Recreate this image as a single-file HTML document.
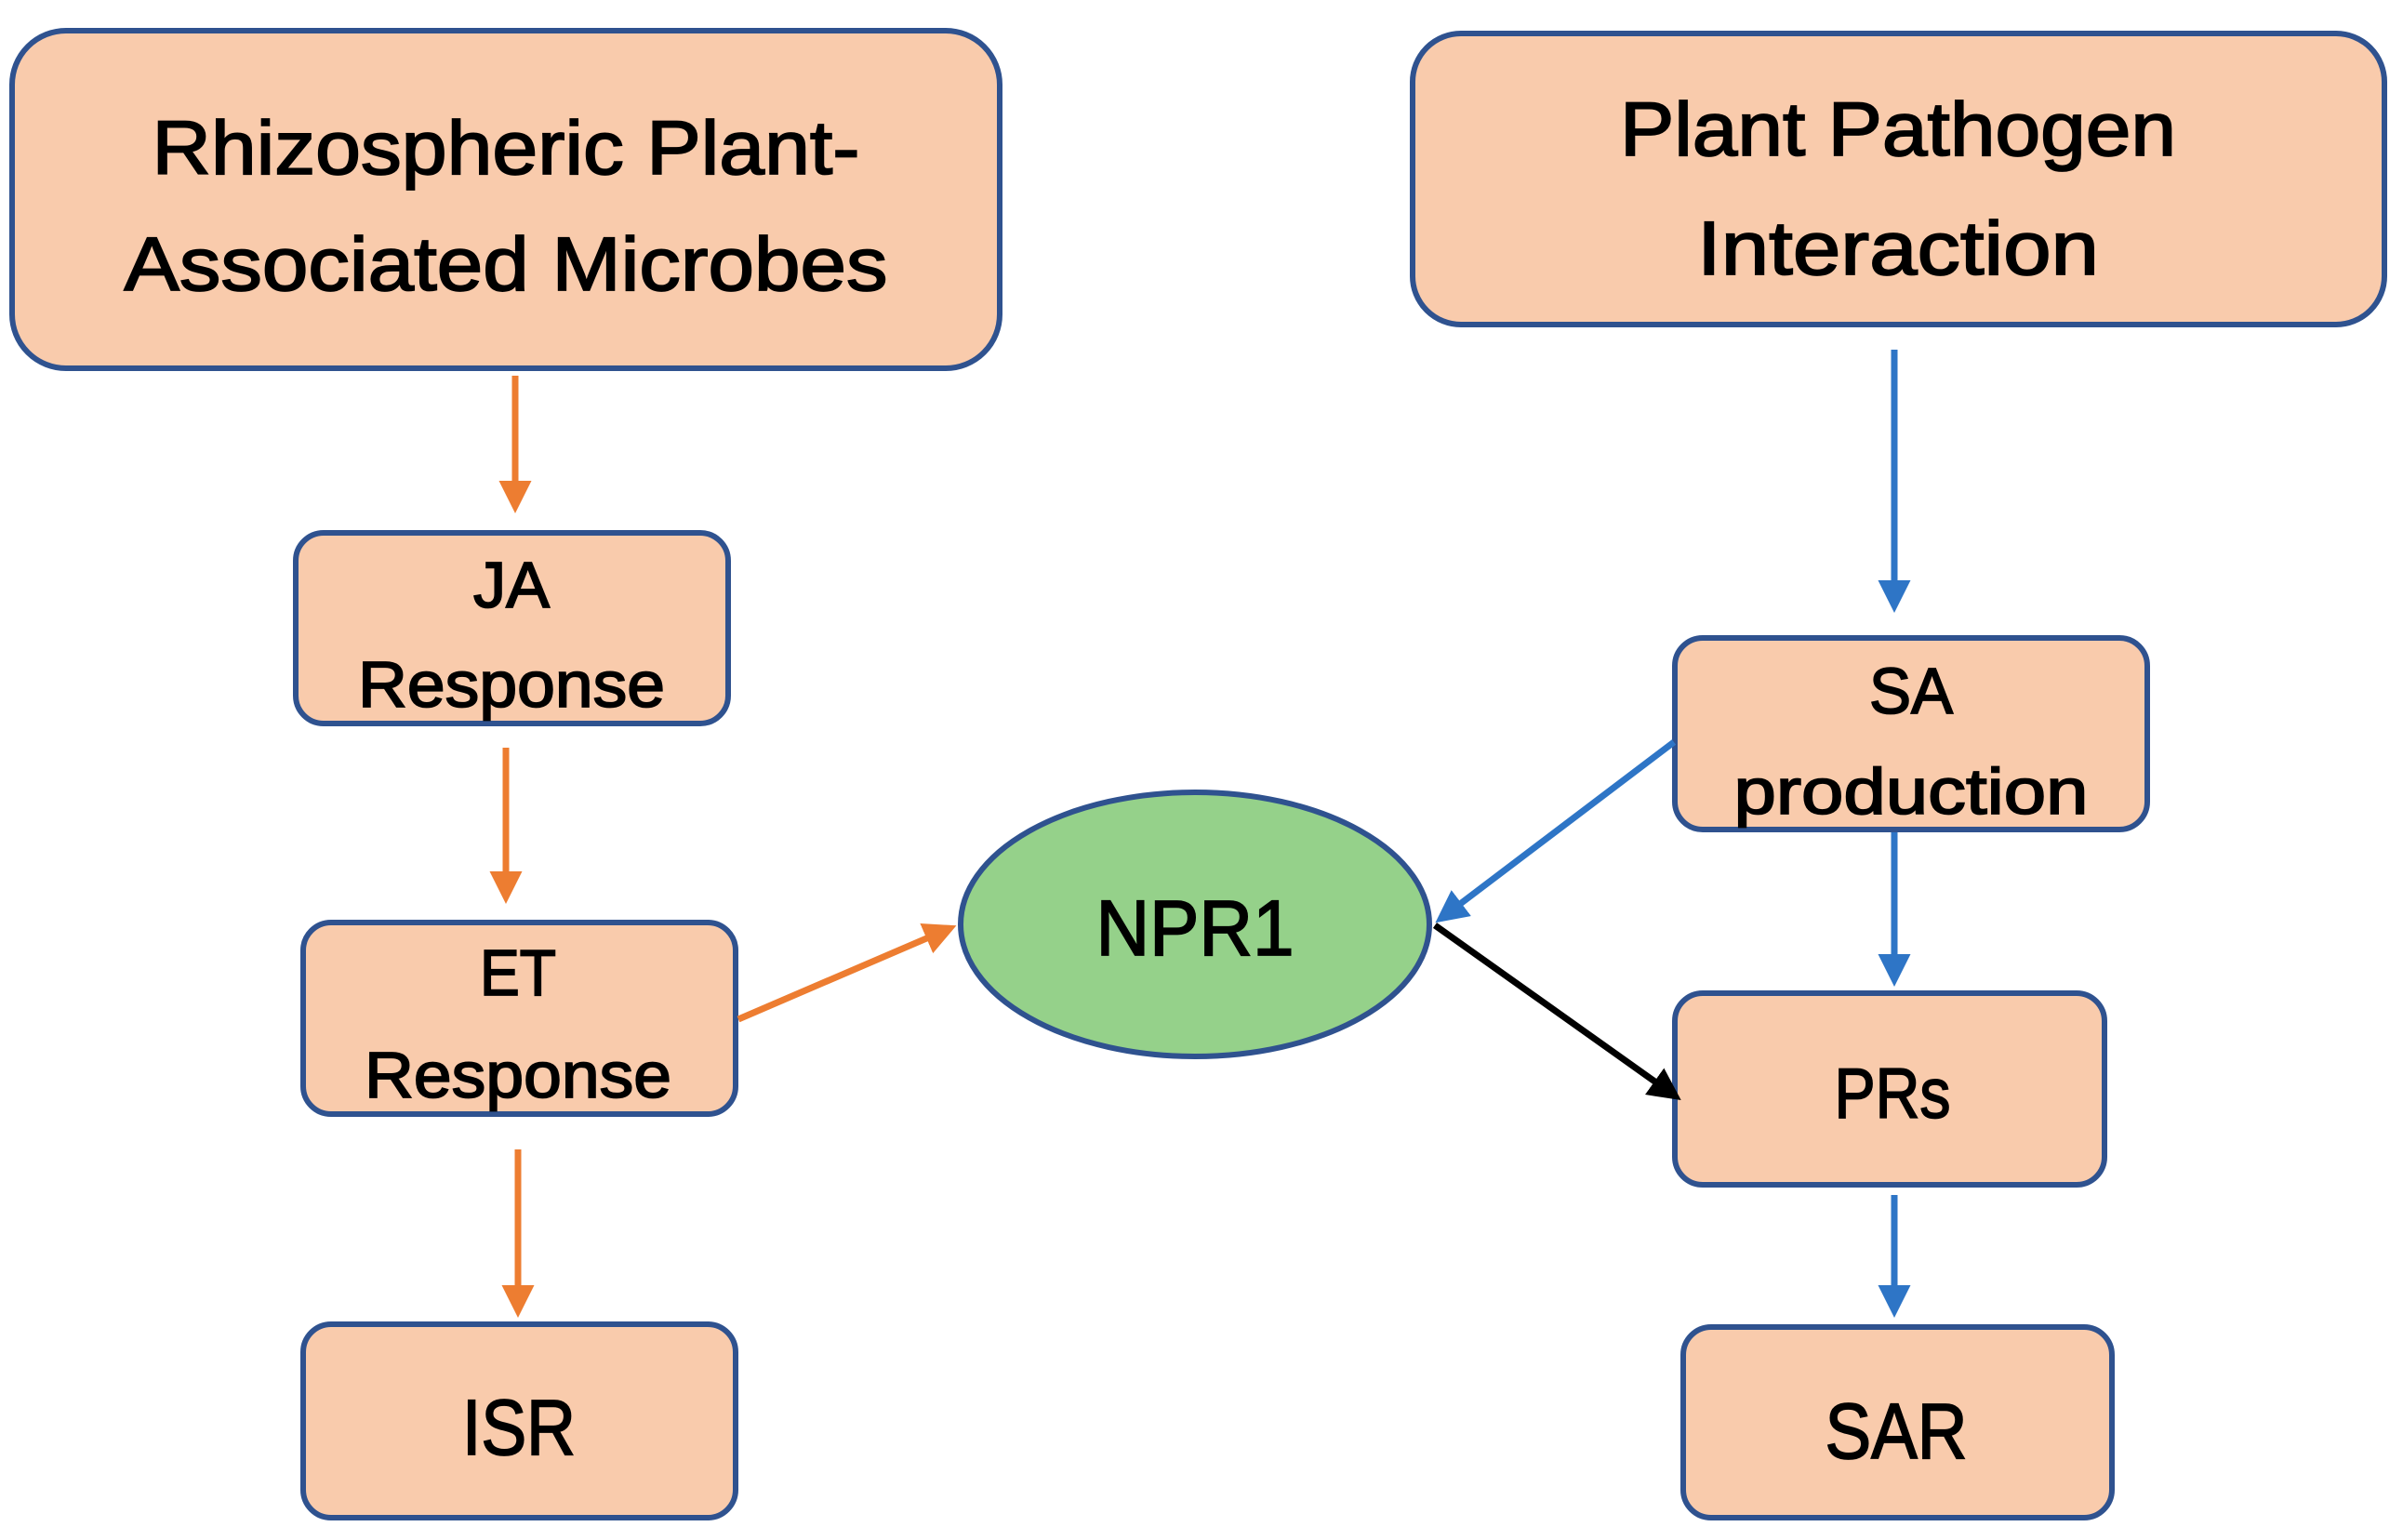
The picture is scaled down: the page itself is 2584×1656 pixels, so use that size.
<!DOCTYPE html>
<html><head><meta charset="utf-8"><style>html,body{margin:0;padding:0;background:#fff}svg{display:block}</style></head>
<body>
<svg width="2584" height="1656" viewBox="0 0 2584 1656" xmlns="http://www.w3.org/2000/svg" font-family="'Liberation Sans', sans-serif" fill="#000">
<defs>
<marker id="ao" markerWidth="5" markerHeight="5" refX="4" refY="2.5" orient="auto" markerUnits="strokeWidth"><path d="M0,0 L5,2.5 L0,5 z" fill="#ED7D31"/></marker>
<marker id="ab" markerWidth="5" markerHeight="5" refX="4" refY="2.5" orient="auto" markerUnits="strokeWidth"><path d="M0,0 L5,2.5 L0,5 z" fill="#2E75C6"/></marker>
<marker id="ak" markerWidth="5" markerHeight="5" refX="4" refY="2.5" orient="auto" markerUnits="strokeWidth"><path d="M0,0 L5,2.5 L0,5 z" fill="#000"/></marker>
</defs>
<g fill="#F9CBAC" stroke="#2F528F" stroke-width="6">
<rect x="13" y="33" width="1062" height="363" rx="58"/>
<rect x="1519" y="36" width="1045" height="313" rx="52"/>
<rect x="318" y="573" width="465" height="205" rx="30"/>
<rect x="326" y="992" width="465" height="206" rx="30"/>
<rect x="326" y="1424" width="465" height="208" rx="30"/>
<rect x="1801" y="686" width="508" height="206" rx="30"/>
<rect x="1801" y="1068" width="462" height="206" rx="30"/>
<rect x="1810" y="1427" width="461" height="205" rx="30"/>
</g>
<ellipse cx="1285" cy="994" rx="252" ry="142" fill="#95D18A" stroke="#2F528F" stroke-width="6"/>
<g stroke-width="7" fill="none">
<line x1="554" y1="404" x2="554" y2="545" stroke="#ED7D31" marker-end="url(#ao)"/>
<line x1="544" y1="804" x2="544" y2="965" stroke="#ED7D31" marker-end="url(#ao)"/>
<line x1="557" y1="1236" x2="557" y2="1410" stroke="#ED7D31" marker-end="url(#ao)"/>
<line x1="794" y1="1096" x2="1022" y2="998" stroke="#ED7D31" marker-end="url(#ao)"/>
<line x1="2037" y1="376" x2="2037" y2="652" stroke="#2E75C6" marker-end="url(#ab)"/>
<line x1="1800" y1="798" x2="1549" y2="988" stroke="#2E75C6" marker-end="url(#ab)"/>
<line x1="2037" y1="895" x2="2037" y2="1054" stroke="#2E75C6" marker-end="url(#ab)"/>
<line x1="2037" y1="1285" x2="2037" y2="1410" stroke="#2E75C6" marker-end="url(#ab)"/>
<line x1="1543" y1="995" x2="1802" y2="1179" stroke="#000" marker-end="url(#ak)"/>
</g>
<g text-anchor="middle" stroke="#000" stroke-width="1.8">
<text x="544" y="187" font-size="82" textLength="761" lengthAdjust="spacingAndGlyphs">Rhizospheric Plant-</text>
<text x="544" y="312" font-size="82" textLength="821" lengthAdjust="spacingAndGlyphs">Associated Microbes</text>
<text x="2041" y="167" font-size="82" textLength="598" lengthAdjust="spacingAndGlyphs">Plant Pathogen</text>
<text x="2041" y="295" font-size="82" textLength="432" lengthAdjust="spacingAndGlyphs">Interaction</text>
<text x="550" y="653" font-size="70" textLength="82" lengthAdjust="spacingAndGlyphs">JA</text>
<text x="550" y="760" font-size="70" textLength="330" lengthAdjust="spacingAndGlyphs">Response</text>
<text x="557" y="1070" font-size="70" textLength="82" lengthAdjust="spacingAndGlyphs">ET</text>
<text x="557" y="1180" font-size="70" textLength="330" lengthAdjust="spacingAndGlyphs">Response</text>
<text x="558" y="1564" font-size="84" textLength="122" lengthAdjust="spacingAndGlyphs">ISR</text>
<text x="1285" y="1027" font-size="84" textLength="213" lengthAdjust="spacingAndGlyphs">NPR1</text>
<text x="2055" y="767" font-size="70" textLength="90" lengthAdjust="spacingAndGlyphs">SA</text>
<text x="2055" y="875" font-size="70" textLength="381" lengthAdjust="spacingAndGlyphs">production</text>
<text x="2035" y="1202" font-size="76" textLength="125" lengthAdjust="spacingAndGlyphs">PRs</text>
<text x="2039" y="1568" font-size="84" textLength="153" lengthAdjust="spacingAndGlyphs">SAR</text>
</g>
</svg>
</body></html>
